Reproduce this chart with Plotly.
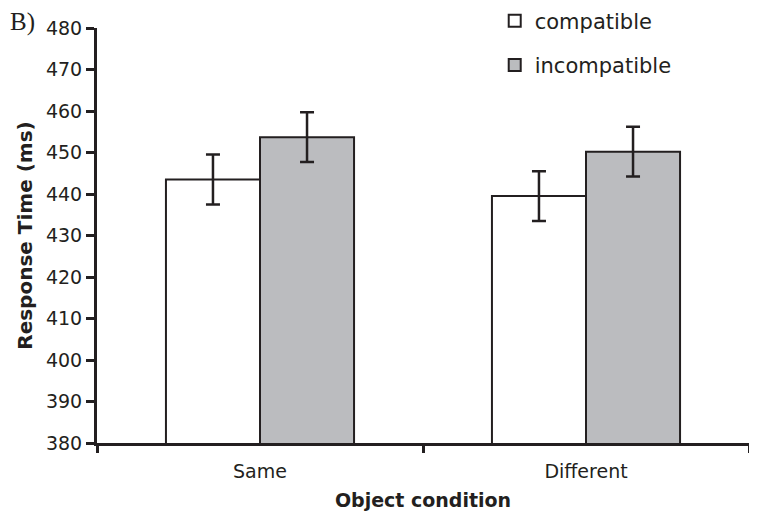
import plotly.graph_objects as go

categories = ["Same", "Different"]
compatible = [443.5, 439.5]
incompatible = [453.7, 450.2]
compatible_err = [6.0, 6.0]
incompatible_err = [6.0, 6.0]
series_names = ["compatible", "incompatible"]
y_ticks = list(range(380, 481, 10))

ink = "#231f20"
font_family = "DejaVu Sans, Verdana, sans-serif"

fig = go.Figure()
fig.add_trace(go.Bar(
    x=categories, y=compatible, name=series_names[0],
    marker=dict(color="#ffffff", line=dict(color=ink, width=2)),
    error_y=dict(type="data", array=compatible_err, color=ink, thickness=2.5, width=7),
    legendgroup="a",
))
fig.add_trace(go.Bar(
    x=categories, y=incompatible, name=series_names[1],
    marker=dict(color="#bbbcbf", line=dict(color=ink, width=2)),
    error_y=dict(type="data", array=incompatible_err, color=ink, thickness=2.5, width=7),
    legendgroup="b",
))

# The page has an 8px body margin, so the figure is offset by 8px right/down.
fig.update_layout(
    width=749, height=508,
    margin=dict(l=89, r=8, t=20, b=73, autoexpand=False),
    paper_bgcolor="white", plot_bgcolor="white",
    barmode="group", bargap=0.423, bargroupgap=0,
    font=dict(family=font_family, color=ink, size=19),
    showlegend=True,
    legend=dict(
        x=0.61, y=1.066, xanchor="left", yanchor="top",
        font=dict(size=21, color=ink),
        traceorder="grouped", tracegroupgap=14,
        bgcolor="rgba(0,0,0,0)",
    ),
    xaxis=dict(
        automargin=False,
        showline=True, linecolor=ink, linewidth=3,
        ticks="outside", tickson="boundaries", ticklen=7, tickwidth=3, tickcolor=ink,
        tickfont=dict(size=19, color=ink), ticklabelstandoff=9,
        title=dict(text="<b>Object condition</b>", font=dict(size=19, color=ink), standoff=13),
        showgrid=False, zeroline=False,
    ),
    yaxis=dict(
        automargin=False,
        range=[380, 480], tickvals=y_ticks,
        showline=True, linecolor=ink, linewidth=3,
        ticks="outside", ticklen=8, tickwidth=3, tickcolor=ink,
        tickfont=dict(size=19, color=ink),
        title=dict(text="<b>Response Time (ms)</b>", font=dict(size=20, color=ink), standoff=8),
        showgrid=False, zeroline=False,
    ),
    annotations=[dict(
        text="B)", xref="paper", yref="paper", x=-0.1365, y=1.015,
        xanchor="left", yanchor="middle", showarrow=False,
        font=dict(family="Liberation Serif, Times New Roman, serif", size=25, color=ink),
    )],
)

fig.write_html("out.html")
